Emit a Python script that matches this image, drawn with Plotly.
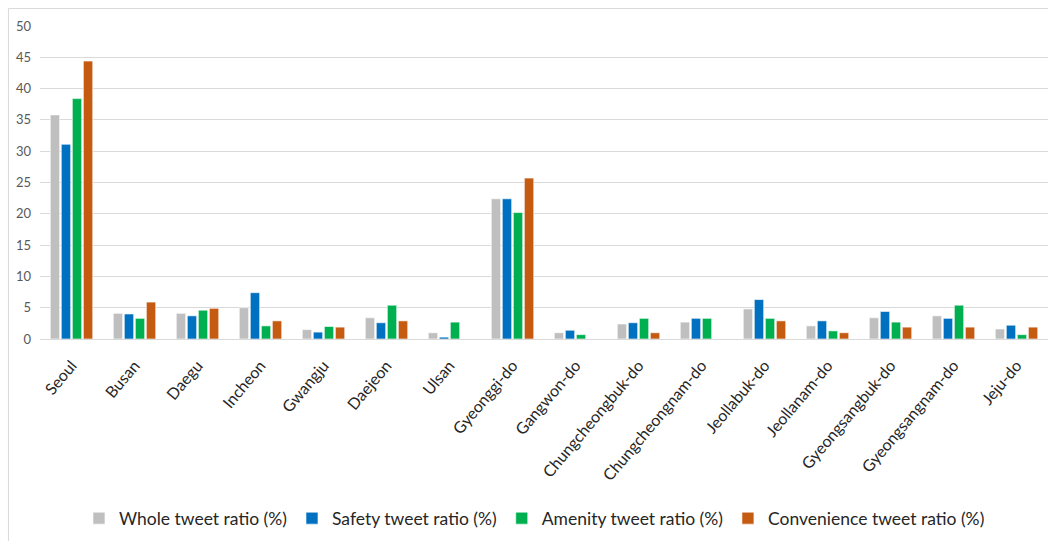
import plotly.graph_objects as go

regions = ["Seoul", "Busan", "Daegu", "Incheon", "Gwangju", "Daejeon", "Ulsan",
           "Gyeonggi-do", "Gangwon-do", "Chungcheongbuk-do", "Chungcheongnam-do",
           "Jeollabuk-do", "Jeollanam-do", "Gyeongsangbuk-do", "Gyeongsangnam-do", "Jeju-do"]

whole_ratio = [35.8, 4.1, 4.1, 5.0, 1.5, 3.4, 1.0, 22.4, 1.0, 2.4, 2.7, 4.8, 2.1, 3.4, 3.7, 1.6]
safety_ratio = [31.1, 4.0, 3.7, 7.4, 1.1, 2.6, 0.3, 22.4, 1.4, 2.6, 3.3, 6.3, 2.9, 4.4, 3.3, 2.2]
amenity_ratio = [38.4, 3.3, 4.6, 2.1, 2.0, 5.4, 2.7, 20.2, 0.7, 3.3, 3.3, 3.3, 1.3, 2.7, 5.4, 0.7]
convenience_ratio = [44.4, 5.9, 4.9, 2.9, 1.9, 2.9, 0.0, 25.7, 0.0, 1.0, 0.0, 2.9, 1.0, 1.9, 1.9, 1.9]

series = [
    ("Whole tweet ratio (%)", whole_ratio, "#BFBFBF"),
    ("Safety tweet ratio (%)", safety_ratio, "#0070C0"),
    ("Amenity tweet ratio (%)", amenity_ratio, "#00B050"),
    ("Convenience tweet ratio (%)", convenience_ratio, "#C55A11"),
]

fig = go.Figure()
for name, vals, color in series:
    fig.add_trace(go.Bar(
        x=regions, y=vals, name=name,
        marker=dict(color=color, line=dict(color="rgba(255,255,255,0.6)", width=1)),
    ))

FONT = "Lato, Calibri, 'Open Sans', sans-serif"

fig.update_layout(
    width=1048, height=541,
    margin=dict(l=40, r=0, t=26, b=202),
    paper_bgcolor="white", plot_bgcolor="white",
    barmode="group", bargap=0.3, bargroupgap=0.15,
    font=dict(family=FONT, color="#262626"),
    xaxis=dict(
        tickangle=-50, tickfont=dict(size=16, color="#262626"),
        showgrid=False, showline=True, linecolor="#D9D9D9", linewidth=1,
        ticks="", ticklabelstandoff=10,
    ),
    yaxis=dict(
        range=[0, 50], dtick=5, tickfont=dict(size=13, color="#595959"),
        showgrid=True, gridcolor="#D9D9D9", gridwidth=1,
        zeroline=False, showline=False, ticks="", ticklabelstandoff=8,
    ),
    legend=dict(
        orientation="h", xref="container", yref="container",
        x=0.51, xanchor="center", y=0.042, yanchor="middle",
        font=dict(size=17.5, color="#262626"), itemwidth=30,
        traceorder="normal",
    ),
    shapes=[dict(
        type="rect", xref="paper", yref="paper",
        x0=-0.0313, x1=1.05, y0=-0.66, y1=1.056,
        line=dict(color="#D9D9D9", width=1), layer="below",
    )],
)

fig.write_html("out.html")
